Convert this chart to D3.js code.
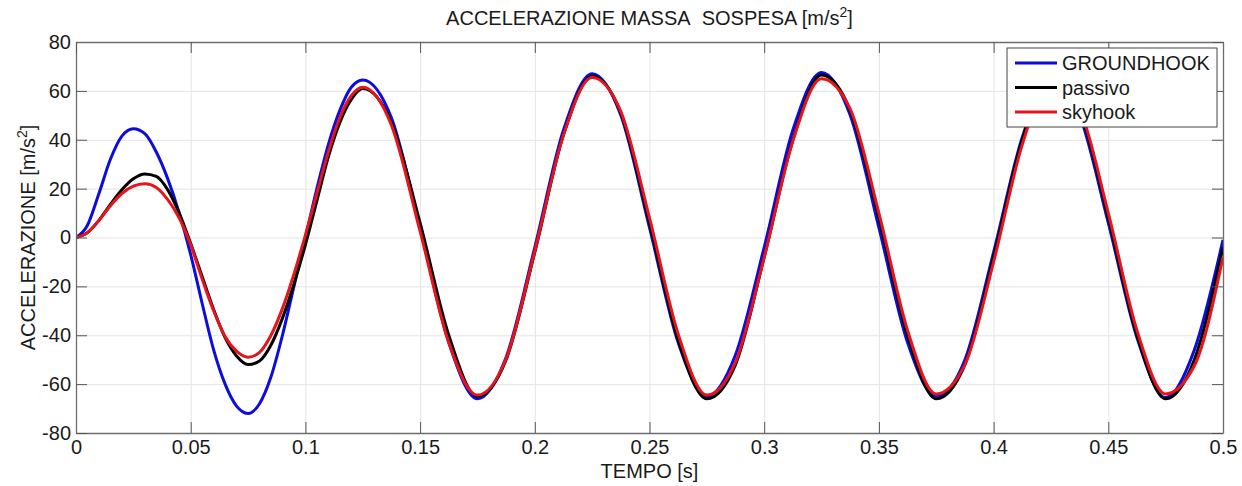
<!DOCTYPE html>
<html lang="it">
<head>
  <meta charset="UTF-8">
  <title>Accelerazione massa sospesa</title>
  <script src="https://d3js.org/d3.v7.min.js"></script>
  <style>
    body { margin: 0; background: #fff; }
    svg { font-family: "Liberation Sans", Arial, sans-serif; }
    .grid line { stroke: #e4e4e4; stroke-width: 1px; }
    .grid path { display: none; }
    .axis path { stroke: #6e6e6e; stroke-width: 1.3px; }
    .axis line { stroke: #555; stroke-width: 1px; }
    .axis text { font-size: 20px; fill: #1a1a1a; }
    .series { fill: none; stroke-width: 3px; stroke-linejoin: round; }
  </style>
</head>
<body>
  <svg></svg>
  <script>
    const WIDTH = 1242
    const HEIGHT = 486
    const margin = { top: 42, right: 19, bottom: 53, left: 76 }

    // tempo [s]
    const time = [0, 0.005, 0.01, 0.015, 0.02, 0.025, 0.03, 0.035, 0.04, 0.045, 0.05, 0.055, 0.06,
      0.065, 0.07, 0.075, 0.08, 0.085, 0.09, 0.095, 0.1, 0.105, 0.11, 0.115, 0.12, 0.125,
      0.1375, 0.15, 0.1625, 0.175, 0.1875, 0.2, 0.2125, 0.225, 0.2375, 0.25, 0.2625, 0.275,
      0.2875, 0.3, 0.3125, 0.325, 0.3375, 0.35, 0.3625, 0.375, 0.3875, 0.4, 0.4125, 0.425,
      0.4375, 0.45, 0.4625, 0.475, 0.4875, 0.5]

    const groundhook = [0, 5, 18, 32, 41.5, 44.5, 42.5, 35, 24, 10, -7, -27, -46,
      -60, -69, -72, -68, -57, -40, -20, 0, 20, 38, 52, 61.5, 64.5,
      49, 4, -43, -66, -49, -4, 44, 67, 50, 4, -43, -65,
      -48, -4, 44, 67.5, 50, 4, -43, -65, -50, -6, 41, 65.5,
      50, 6, -41, -65.5, -46, -1]

    const passivo = [0, 2, 7, 13.5, 19.5, 24, 26, 25, 19.5, 10, -2.5, -16, -29.5,
      -41, -48.5, -52, -50.5, -44, -33, -19, -3, 15, 33, 47, 56.5, 61,
      47, 6, -40, -65, -50, -6, 42, 66, 51, 6, -42, -66,
      -52, -8, 40, 66.5, 52, 8, -40, -66, -52, -8, 40, 65.5,
      52, 8, -40, -66, -50, -4]

    const skyhook = [0, 2, 7, 13, 18, 21, 22, 20.5, 15.5, 8, -3, -17, -30,
      -40.5, -46.5, -49, -47, -40, -29, -15, 1, 18, 35, 49, 58, 61.5,
      46, 2.5, -43, -64.5, -49.5, -5.5, 42, 65.5, 51.5, 8, -39.5, -64.5,
      -51, -8, 39.5, 65, 52.5, 10, -38, -64, -52, -10, 38, 64.5,
      52.5, 10, -38, -64, -52.5, -8]

    const seriesNames = ['GROUNDHOOK', 'passivo', 'skyhook']
    const seriesColors = ['#0c0cdc', '#000000', '#e8141c']
    const seriesValues = [groundhook, passivo, skyhook]

    const xTicks = [0, 0.05, 0.1, 0.15, 0.2, 0.25, 0.3, 0.35, 0.4, 0.45, 0.5]
    const yTicks = [-80, -60, -40, -20, 0, 20, 40, 60, 80]

    const w = WIDTH - margin.left - margin.right
    const h = HEIGHT - margin.top - margin.bottom

    const svg = d3.select('svg')
      .attr('width', WIDTH)
      .attr('height', HEIGHT)

    const x = d3.scaleLinear().domain([0, 0.5]).range([0, w])
    const y = d3.scaleLinear().domain([-80, 80]).range([h, 0])

    const g = svg.append('g')
      .attr('transform', `translate(${margin.left},${margin.top})`)

    // griglia
    g.append('g')
      .attr('class', 'grid')
      .attr('transform', `translate(0,${h})`)
      .call(d3.axisBottom(x).tickValues(xTicks).tickSize(-h).tickFormat(''))
    g.append('g')
      .attr('class', 'grid')
      .call(d3.axisLeft(y).tickValues(yTicks).tickSize(-w).tickFormat(''))

    g.append('clipPath').attr('id', 'clip')
      .append('rect').attr('width', w).attr('height', h)

    const line = d3.line()
      .x((d) => x(d[0]))
      .y((d) => y(d[1]))
      .curve(d3.curveMonotoneX)

    g.append('g')
      .attr('clip-path', 'url(#clip)')
      .selectAll('path')
      .data(seriesValues)
      .enter().append('path')
      .attr('class', 'series')
      .attr('stroke', (d, i) => seriesColors[i])
      .attr('d', (d) => line(time.map((t, i) => [t, d[i]])))

    // assi con tacche interne su tutti i lati
    const tick = 11
    g.append('g')
      .attr('class', 'axis')
      .attr('transform', `translate(0,${h})`)
      .call(d3.axisBottom(x).tickValues(xTicks).tickSize(-tick).tickSizeOuter(0)
        .tickPadding(7).tickFormat((d) => String(d)))
    g.append('g')
      .attr('class', 'axis')
      .call(d3.axisLeft(y).tickValues(yTicks).tickSize(-tick).tickSizeOuter(0)
        .tickPadding(5).tickFormat((d) => String(d)))
    g.append('g')
      .attr('class', 'axis')
      .call(d3.axisTop(x).tickValues(xTicks).tickSize(-tick).tickSizeOuter(0).tickFormat(''))
    g.append('g')
      .attr('class', 'axis')
      .attr('transform', `translate(${w},0)`)
      .call(d3.axisRight(y).tickValues(yTicks).tickSize(-tick).tickSizeOuter(0).tickFormat(''))

    // titolo
    const title = svg.append('text')
      .attr('x', margin.left + w / 2)
      .attr('y', 25)
      .attr('text-anchor', 'middle')
      .style('font-size', '20px')
      .attr('fill', '#1a1a1a')
    title.append('tspan').text('ACCELERAZIONE MASSA\u00a0\u00a0SOSPESA [m/s')
    title.append('tspan').text('2').attr('dy', -8).style('font-size', '14px')
    title.append('tspan').text(']').attr('dy', 8)

    // etichette assi
    svg.append('text')
      .attr('x', margin.left + w / 2)
      .attr('y', 478)
      .attr('text-anchor', 'middle')
      .style('font-size', '20px')
      .attr('fill', '#1a1a1a')
      .text('TEMPO [s]')

    const ylab = svg.append('text')
      .attr('transform', `translate(35,${margin.top + h / 2}) rotate(-90)`)
      .attr('text-anchor', 'middle')
      .style('font-size', '20px')
      .attr('fill', '#1a1a1a')
    ylab.append('tspan').text('ACCELERAZIONE [m/s')
    ylab.append('tspan').text('2').attr('dy', -8).style('font-size', '14px')
    ylab.append('tspan').text(']').attr('dy', 8)

    // legenda
    const legend = svg.append('g')
      .attr('transform', 'translate(1007,48)')
    legend.append('rect')
      .attr('width', 210)
      .attr('height', 79)
      .attr('fill', '#fff')
      .attr('stroke', '#444')
      .attr('stroke-width', 1)

    const item = legend.selectAll('g.item')
      .data(seriesNames)
      .enter().append('g')
      .attr('class', 'item')
      .attr('transform', (d, i) => `translate(0,${15 + i * 24.5})`)
    item.append('line')
      .attr('x1', 8).attr('x2', 50)
      .attr('stroke', (d, i) => seriesColors[i])
      .attr('stroke-width', 3)
    item.append('text')
      .attr('x', 55)
      .attr('y', 7)
      .style('font-size', '20px')
      .attr('fill', '#1a1a1a')
      .text((d) => d)
  </script>
</body>
</html>
